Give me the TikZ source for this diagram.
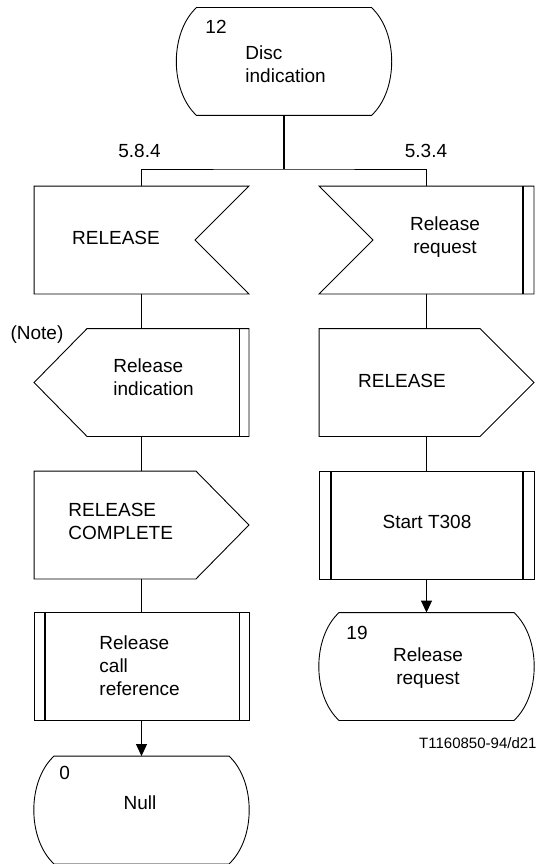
\documentclass[tikz,border=0pt]{standalone}
\usepackage{fontspec}
\setmainfont{Liberation Sans}
\usetikzlibrary{arrows.meta}

\begin{document}
\begin{tikzpicture}[x=1pt, y=-1pt, line width=0.9pt,
    sym/.style={minimum width=214pt, minimum height=107pt, inner sep=0pt},
    txt/.style={inner sep=0pt, font=\fontsize{19}{23}\selectfont},
    bar/.style={line width=2pt},
    flow/.style={-{Triangle[width=11pt, length=12pt]}}]
        \useasboundingbox (0,0) rectangle (539,864);

        % The symbol frames
        \node[sym] (disc) at (284,61.5) {};
        \node[sym] (relin) at (141.5,240) {};
        \node[sym] (relind) at (141.5,382.5) {};
        \node[sym] (relcomp) at (141.5,525) {};
        \node[sym] (relcall) at (141.5,666.5) {};
        \node[sym] (null) at (141.5,810) {};
        \node[sym] (reqin) at (426.5,240) {};
        \node[sym] (relout) at (426.5,382.5) {};
        \node[sym] (t308) at (426.5,525) {};
        \node[sym] (waitrel) at (426.5,666.5) {};

        % State 12 (Top)
        \draw ([xshift=20pt]disc.north west) -- ([xshift=-20pt]disc.north east)
            .. controls ([xshift=7pt, yshift=-25pt]disc.north east) and ([xshift=7pt, yshift=25pt]disc.south east) .. ([xshift=-20pt]disc.south east)
            -- ([xshift=20pt]disc.south west)
            .. controls ([xshift=-7pt, yshift=25pt]disc.south west) and ([xshift=-7pt, yshift=-25pt]disc.north west) .. cycle;
        \node[txt, anchor=west] (disc-no) at (205,27) {12};
        \node[txt, anchor=west, align=left] (disc-t) at (245,64) {Disc\\indication};

        % Branches
        \coordinate (fork) at (284,169);
        \draw[line width=1.5pt] (disc.south) -- (fork);
        \draw (relin.north) |- (fork) -| (reqin.north);
        \node[txt] (br-left) at (139.5,151) {5.8.4};
        \node[txt] (br-right) at (426,151) {5.3.4};

        % Left column: input RELEASE
        \draw (relin.north west) -- (relin.north east) -- ([xshift=-54pt]relin.east) -- (relin.south east) -- (relin.south west) -- cycle;
        \node[txt] (relin-t) at (116,238) {RELEASE};

        % Left column: internal output Release indication
        \draw ([xshift=53pt]relind.north west) -- (relind.north east) -- (relind.south east) -- ([xshift=53pt]relind.south west) -- (relind.west) -- cycle;
        \draw ([xshift=-10pt]relind.north east) -- ([xshift=-10pt]relind.south east);
        \node[txt] (note) at (37,335) {(Note)};
        \node[txt, anchor=west, align=left] (relind-t) at (113,377.5) {Release\\indication};

        % Left column: output RELEASE COMPLETE
        \draw (relcomp.north west) -- ([xshift=-53pt]relcomp.north east) -- (relcomp.east) -- ([xshift=-53pt]relcomp.south east) -- (relcomp.south west) -- cycle;
        \node[txt, anchor=west, align=left] (relcomp-t) at (68,521) {RELEASE\\COMPLETE};

        % Left column: task Release call reference
        \draw (relcall.north west) rectangle (relcall.south east);
        \draw[bar] ([xshift=11pt]relcall.north west) -- ([xshift=11pt]relcall.south west);
        \draw ([xshift=-10pt]relcall.north east) -- ([xshift=-10pt]relcall.south east);
        \node[txt, anchor=west, align=left] (relcall-t) at (99,666) {Release\\call\\reference};

        % Left column: state 0
        \draw ([xshift=20pt]null.north west) -- ([xshift=-20pt]null.north east)
            .. controls ([xshift=7pt, yshift=-25pt]null.north east) and ([xshift=7pt, yshift=25pt]null.south east) .. ([xshift=-20pt]null.south east)
            -- ([xshift=20pt]null.south west)
            .. controls ([xshift=-7pt, yshift=25pt]null.south west) and ([xshift=-7pt, yshift=-25pt]null.north west) .. cycle;
        \node[txt, anchor=west] (null-no) at (59,773) {0};
        \node[txt] (null-t) at (140,803) {Null};

        % Right column: internal input Release request
        \draw (reqin.north west) -- (reqin.north east) -- (reqin.south east) -- (reqin.south west) -- ([xshift=54pt]reqin.west) -- cycle;
        \draw[bar] ([xshift=-11pt]reqin.north east) -- ([xshift=-11pt]reqin.south east);
        \node[txt, align=center] (reqin-t) at (445,237) {Release\\request};

        % Right column: output RELEASE
        \draw (relout.north west) -- ([xshift=-54pt]relout.north east) -- (relout.east) -- ([xshift=-54pt]relout.south east) -- (relout.south west) -- cycle;
        \node[txt] (relout-t) at (402,381) {RELEASE};

        % Right column: task Start T308
        \draw (t308.north west) rectangle (t308.south east);
        \draw[bar] ([xshift=12pt]t308.north west) -- ([xshift=12pt]t308.south west);
        \draw[bar] ([xshift=-11pt]t308.north east) -- ([xshift=-11pt]t308.south east);
        \node[txt] (t308-t) at (427,522) {Start T308};

        % Right column: state 19
        \draw ([xshift=20pt]waitrel.north west) -- ([xshift=-20pt]waitrel.north east)
            .. controls ([xshift=7pt, yshift=-25pt]waitrel.north east) and ([xshift=7pt, yshift=25pt]waitrel.south east) .. ([xshift=-20pt]waitrel.south east)
            -- ([xshift=20pt]waitrel.south west)
            .. controls ([xshift=-7pt, yshift=25pt]waitrel.south west) and ([xshift=-7pt, yshift=-25pt]waitrel.north west) .. cycle;
        \node[txt, anchor=west] (waitrel-no) at (346,633) {19};
        \node[txt, align=center] (waitrel-t) at (428,668.5) {Release\\request};

        % Flow lines
        \draw (relin.south) -- (relind.north);
        \draw (relind.south) -- (relcomp.north);
        \draw (relcomp.south) -- (relcall.north);
        \draw[flow] (relcall.south) -- (null.north);
        \draw (reqin.south) -- (relout.north);
        \draw (relout.south) -- (t308.north);
        \draw[flow] (t308.south) -- (waitrel.north);

        % Figure number
        \node[txt, font=\fontsize{15}{18}\selectfont, anchor=east] (fig-no) at (537,743) {T1160850-94/d21};
    \end{tikzpicture}
\end{document}
